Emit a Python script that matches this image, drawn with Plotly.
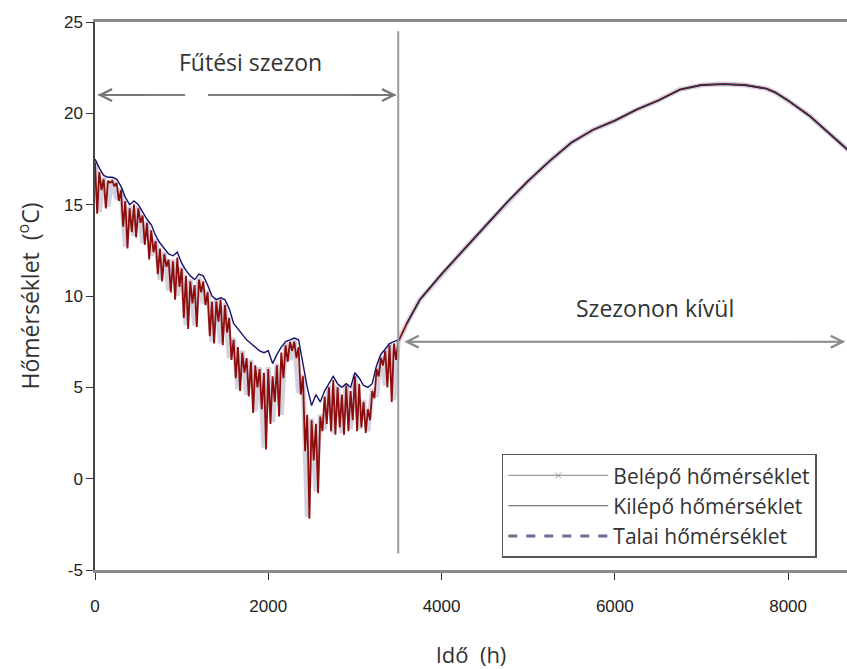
import plotly.graph_objects as go

# ---- Heating season (0-3500 h) -------------------------------------------
heat_hours = list(range(0, 3501, 50))          # ground / inlet samples
outlet_low_hours = list(range(25, 3500, 50))   # outlet daily minima

ground_heat = [17.5, 17.0, 16.6, 16.5, 16.5, 16.4, 16.0, 15.4, 15.0, 15.2,
               15.0, 14.6, 14.2, 13.9, 13.3, 12.9, 12.6, 12.3, 12.2, 12.4,
               11.8, 11.4, 11.1, 10.9, 11.2, 11.1, 10.6, 10.0, 9.8, 9.9,
               9.8, 9.3, 8.5, 8.2, 7.9, 7.6, 7.4, 7.2, 7.0, 6.9,
               7.0, 6.3, 6.8, 7.2, 7.5, 7.6, 7.7, 7.6, 6.2, 5.0,
               4.0, 4.6, 4.2, 4.8, 5.2, 5.6, 5.2, 5.0, 5.2, 5.0,
               5.8, 5.5, 5.1, 5.0, 5.2, 6.2, 6.8, 7.1, 7.4, 7.5,
               7.6]

outlet_high = [17.3, 16.8, 16.4, 16.3, 16.3, 16.2, 15.8, 15.2, 14.8, 15.0,
               14.8, 14.4, 14.0, 13.6, 13.0, 12.6, 12.3, 12.0, 11.9, 12.1,
               11.5, 11.1, 10.8, 10.6, 10.9, 10.8, 10.2, 9.7, 9.7, 9.8,
               9.5, 8.8, 7.6, 7.2, 6.9, 6.6, 6.4, 6.2, 6.0, 5.8,
               6.0, 5.6, 6.2, 6.9, 7.3, 7.5, 7.5, 7.2, 5.6, 3.5,
               3.2, 3.0, 3.4, 4.5, 5.0, 5.4, 5.0, 4.6, 5.1, 4.8,
               5.6, 5.2, 4.2, 3.8, 4.8, 6.0, 6.6, 7.0, 7.3, 7.4,
               7.5]

outlet_low = [14.5, 15.8, 14.8, 16.2, 16.0, 15.2, 13.8, 12.6, 13.5, 13.2,
              14.0, 12.8, 12.0, 12.4, 11.2, 10.8, 11.6, 10.2, 9.8, 10.5,
              8.8, 8.2, 9.6, 8.3, 10.2, 9.5, 7.8, 7.4, 8.6, 7.3,
              8.0, 6.5, 5.5, 4.8, 5.8, 4.5, 3.6, 5.0, 3.8, 1.6,
              3.0, 4.2, 3.4, 5.5, 6.4, 7.0, 6.6, 4.6, 1.5, -2.2,
              1.0, -0.8, 2.6, 3.0, 2.6, 2.4, 2.8, 2.4, 2.6, 3.2,
              2.6, 2.8, 2.5, 3.2, 4.4, 5.6, 6.2, 5.0, 4.2, 6.5]

inlet_heat = [17.4, 14.6, 16.5, 14.9, 16.4, 15.3, 15.9, 12.7, 14.9, 13.3,
              14.9, 12.9, 14.1, 12.2, 13.1, 10.9, 12.4, 10.3, 12.0, 10.0,
              11.6, 8.4, 10.9, 8.4, 11.0, 9.6, 10.3, 7.5, 9.8, 7.4,
              9.6, 6.6, 7.7, 4.9, 7.0, 4.6, 6.5, 3.7, 6.1, 1.7,
              6.1, 3.1, 6.3, 3.5, 7.4, 6.5, 7.6, 4.7, 5.7, -2.1,
              3.3, -0.7, 3.5, 2.7, 5.1, 2.5, 5.1, 2.5, 5.2, 2.7,
              5.7, 2.7, 4.3, 2.6, 4.9, 4.5, 6.7, 5.1, 7.4, 4.3,
              7.5]

# ---- Off season (3500-8760 h) ------------------------------------------
off_hours = [3600, 3750, 4000, 4250, 4500, 4750, 5000, 5250, 5500, 5750,
             6000, 6250, 6500, 6750, 7000, 7250, 7500, 7750, 7850, 8000,
             8250, 8500, 8760]
off_temp = [8.5, 9.8, 11.2, 12.5, 13.8, 15.1, 16.3, 17.4, 18.4, 19.1,
            19.6, 20.2, 20.7, 21.3, 21.55, 21.6, 21.55, 21.35, 21.15, 20.7,
            19.85, 18.8, 17.7]

season_boundary = 3500
x_ticks = [0, 2000, 4000, 6000, 8000]
y_ticks = [-5, 0, 5, 10, 15, 20, 25]
y_tick_text = ["-5", "0", "5", "10", "15", "20", "25"]

# outlet: daily maxima and minima interleaved
outlet_x, outlet_y = [], []
for i in range(len(outlet_low)):
    outlet_x += [heat_hours[i], outlet_low_hours[i]]
    outlet_y += [outlet_high[i], outlet_low[i]]
outlet_x.append(heat_hours[-1])
outlet_y.append(outlet_high[-1])

fig = go.Figure()

fig.add_trace(go.Scatter(
    x=heat_hours + off_hours, y=inlet_heat + off_temp, mode="lines",
    line=dict(color="rgba(200,198,214,0.8)", width=5),
    showlegend=False, hoverinfo="skip"))
fig.add_trace(go.Scatter(
    x=outlet_x + off_hours, y=outlet_y + off_temp, mode="lines",
    line=dict(color="#8e0c0c", width=1.8),
    showlegend=False, hoverinfo="skip"))
fig.add_trace(go.Scatter(
    x=heat_hours, y=ground_heat, mode="lines",
    line=dict(color="#14146e", width=1.4),
    showlegend=False, hoverinfo="skip"))
fig.add_trace(go.Scatter(
    x=off_hours, y=off_temp, mode="lines",
    line=dict(color="#2c2c48", width=1.4),
    showlegend=False, hoverinfo="skip"))

# legend entries
fig.add_trace(go.Scatter(
    x=[None], y=[None], mode="lines+markers", name="Belépő hőmérséklet",
    line=dict(color="#9a9a9a", width=1.2),
    marker=dict(symbol="x-thin", size=6, color="#9a9a9a",
                line=dict(color="#9a9a9a", width=1))))
fig.add_trace(go.Scatter(
    x=[None], y=[None], mode="lines", name="Kilépő hőmérséklet",
    line=dict(color="#5a5a5a", width=1.2)))
fig.add_trace(go.Scatter(
    x=[None], y=[None], mode="lines", name="Talai hőmérséklet",
    line=dict(color="#6c6c92", width=3, dash="dash")))

# season boundary
fig.add_shape(type="line", xref="x", yref="y",
              x0=season_boundary, x1=season_boundary, y0=-4.1, y1=24.5,
              line=dict(color="#9a9a9a", width=2))

# double arrows: plain lines with open arrowheads at the ends
fig.add_shape(type="line", xref="x", yref="y", x0=40, x1=1040, y0=21.0, y1=21.0,
              line=dict(color="#555555", width=1.5))
fig.add_shape(type="line", xref="x", yref="y", x0=1305, x1=season_boundary - 30,
              y0=21.0, y1=21.0, line=dict(color="#555555", width=1.5))
fig.add_shape(type="line", xref="x", yref="y", x0=3600, x1=8640, y0=7.5, y1=7.5,
              line=dict(color="#8a8a8a", width=2))

arrow_style = dict(showarrow=True, arrowhead=5, arrowsize=1.8, arrowwidth=1.3,
                   axref="x", ayref="y", xref="x", yref="y", text="")
fig.add_annotation(x=30, y=21.0, ax=600, ay=21.0, arrowcolor="#777777", **arrow_style)
fig.add_annotation(x=season_boundary - 20, y=21.0, ax=2900, ay=21.0,
                   arrowcolor="#777777", **arrow_style)
fig.add_annotation(x=3570, y=7.5, ax=4200, ay=7.5, arrowcolor="#8a8a8a", **arrow_style)
fig.add_annotation(x=8660, y=7.5, ax=8000, ay=7.5, arrowcolor="#8a8a8a", **arrow_style)

text_font = dict(family="Open Sans", size=23, color="#333333")
fig.add_annotation(x=1790, y=22.8, text="Fűtési szezon", showarrow=False,
                   xref="x", yref="y", font=text_font)
fig.add_annotation(x=6460, y=9.35, text="Szezonon kívül", showarrow=False,
                   xref="x", yref="y", font=text_font)

fig.update_layout(
    width=847, height=669,
    margin=dict(l=95, r=0, t=22, b=99),
    paper_bgcolor="white", plot_bgcolor="white",
    font=dict(family="Arial", size=17, color="#222222"),
    legend=dict(x=0.541, y=0.212, xanchor="left", yanchor="top",
                bgcolor="white", bordercolor="#555555", borderwidth=1.5,
                font=dict(family="Open Sans", size=21, color="#333333"),
                itemwidth=100, tracegroupgap=0),
)
fig.update_xaxes(
    range=[0, 8680], tickvals=x_ticks, ticks="outside", ticklen=7,
    tickcolor="#333333", showgrid=False, zeroline=False,
    showline=True, linecolor="#8a8a8a", linewidth=3, mirror=True,
    ticklabelstandoff=12,
    title=dict(text="Idő  (h)", font=dict(family="Open Sans", size=22, color="#333333"),
               standoff=33))
fig.update_yaxes(
    range=[-5, 25], tickvals=y_ticks, ticktext=y_tick_text, ticks="outside",
    ticklen=7, tickcolor="#333333", showgrid=False, zeroline=False,
    showline=True, linecolor="#444444", linewidth=1.5,
    title=dict(text="Hőmérséklet  (<sup>o</sup>C)",
               font=dict(family="Open Sans", size=23, color="#333333"),
               standoff=18))

fig.write_html("out.html")
